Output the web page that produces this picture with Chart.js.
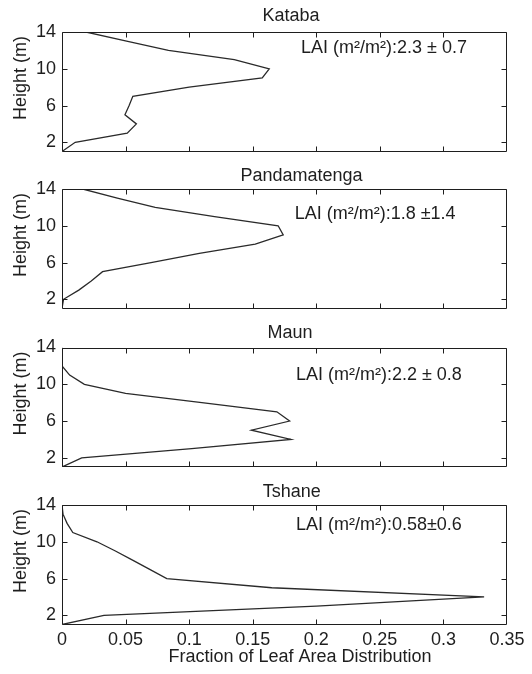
<!DOCTYPE html>
<html>
<head>
<meta charset="utf-8">
<script src="https://cdn.jsdelivr.net/npm/chart.js@4.4.1/dist/chart.umd.min.js"></script>
<style>
  html, body { margin: 0; padding: 0; background: #fff; }
  #wrap { position: relative; width: 532px; height: 674px; }
  #wrap canvas { position: absolute; left: 0; top: 0; }
</style>
</head>
<body>
<div id="wrap">
  <canvas id="panel0" width="532" height="674"></canvas>
  <canvas id="panel1" width="532" height="674"></canvas>
  <canvas id="panel2" width="532" height="674"></canvas>
  <canvas id="panel3" width="532" height="674"></canvas>
</div>
<script>
// heights (m) at which the leaf area fraction was sampled
const heights = [1, 2, 3, 4, 5, 6, 7, 8, 9, 10, 11, 12, 13, 14];

// fraction of leaf area per height, bottom to top
const kataba       = [0.000, 0.0104, 0.0513, 0.0585, 0.0495, 0.0528, 0.0557, 0.100, 0.1575, 0.163, 0.1355, 0.0837, 0.0508, 0.0189];
const pandamatenga = [0.000, 0.0012, 0.0132, 0.023, 0.0319, 0.070, 0.108, 0.152, 0.174, 0.170, 0.120, 0.0733, 0.0435, 0.0163];
const maun         = [0.000, 0.0155, 0.102, 0.180, 0.149, 0.179, 0.169, 0.110, 0.050, 0.0176, 0.006, 0.000, 0.000, 0.000];
const tshane       = [0.000, 0.033, 0.200, 0.332, 0.165, 0.0824, 0.069, 0.0555, 0.042, 0.0275, 0.0085, 0.004, 0.0008, 0.000];

const siteNames = ['Kataba', 'Pandamatenga', 'Maun', 'Tshane'];
const siteSeries = [kataba, pandamatenga, maun, tshane];
const laiText = ['LAI (m²/m²):2.3 ± 0.7', 'LAI (m²/m²):1.8 ±1.4', 'LAI (m²/m²):2.2 ± 0.8', 'LAI (m²/m²):0.58±0.6'];

const yTickValues = [2, 6, 10, 14];
const xMin = 0, xMax = 0.35, xStep = 0.05;
const yMin = 1, yMax = 14;

const yTitle = 'Height (m)';
const xTitle = 'Fraction of Leaf Area Distribution';

// layout of the four stacked panels (pixels)
const plotLeft = 62, plotRight = 507, plotHeight = 119.5;
const plotTops = [32, 189, 347.5, 505];
const titleX = [291, 301.5, 290, 291.7];
const titleBaseline = [21.4, 180.7, 338, 496.7];
// annotation anchor in data coordinates (left edge, cap middle)
const laiPos = [[0.188, 12.3], [0.183, 11.25], [0.184, 11.05], [0.184, 11.8]];

const FONT = '"Liberation Sans", Arial, Helvetica, sans-serif';
const INK = '#1e1e1e';

const panelDecor = {
  id: 'panelDecor',
  afterDatasetsDraw(chart, args, opts) {
    const { ctx, chartArea: a, scales: { x, y } } = chart;
    const L = Math.round(a.left) + 0.5, R = Math.round(a.right) - 0.5;
    const T = Math.round(a.top) + 0.5, B = Math.round(a.bottom) - 0.5;
    const tl = 5;
    ctx.save();
    ctx.strokeStyle = INK;
    ctx.lineWidth = 1;
    ctx.beginPath();
    ctx.rect(L, T, R - L, B - T);
    // inward ticks on all four sides
    x.ticks.forEach(t => {
      if (t.value <= xMin || t.value >= xMax - 1e-9) return;
      const px = Math.round(x.getPixelForValue(t.value)) + 0.5;
      ctx.moveTo(px, B); ctx.lineTo(px, B - tl);
      ctx.moveTo(px, T); ctx.lineTo(px, T + tl);
    });
    y.ticks.forEach(t => {
      const py = Math.round(y.getPixelForValue(t.value)) + 0.5;
      ctx.moveTo(L, py); ctx.lineTo(L + tl, py);
      ctx.moveTo(R, py); ctx.lineTo(R - tl, py);
    });
    ctx.stroke();

    ctx.fillStyle = INK;
    ctx.textBaseline = 'alphabetic';
    // panel title
    ctx.font = '18px ' + FONT;
    ctx.textAlign = 'center';
    ctx.fillText(opts.title, opts.titleX, opts.titleY);

    // LAI annotation
    ctx.textAlign = 'left';
    ctx.textBaseline = 'middle';
    ctx.fillText(opts.lai, x.getPixelForValue(opts.laiPos[0]), y.getPixelForValue(opts.laiPos[1]));

    // y axis title
    ctx.textBaseline = 'alphabetic';
    ctx.textAlign = 'center';
    ctx.save();
    ctx.translate(26, a.top + 46);
    ctx.rotate(-Math.PI / 2);
    ctx.fillText(yTitle, 0, 0);
    ctx.restore();

    if (opts.showXTitle) {
      ctx.fillText(xTitle, 300, 661.5);
    }
    ctx.restore();
  }
};

function makePanel(i) {
  const last = i === siteNames.length - 1;
  const points = heights.map((h, k) => ({ x: siteSeries[i][k], y: h }));
  const top = plotTops[i];
  const below = 674 - (top + plotHeight);

  return new Chart(document.getElementById('panel' + i), {
    type: 'line',
    data: {
      datasets: [{
        data: points,
        borderColor: '#2a2a2a',
        borderWidth: 1.3,
        pointRadius: 0,
        tension: 0,
        fill: false
      }]
    },
    options: {
      responsive: false,
      animation: false,
      events: [],
      layout: { padding: { left: 0, right: 532 - plotRight, top: top, bottom: 0 } },
      plugins: {
        legend: { display: false },
        tooltip: { enabled: false },
        panelDecor: {
          title: siteNames[i],
          titleX: titleX[i],
          titleY: titleBaseline[i],
          lai: laiText[i],
          laiPos: laiPos[i],
          showXTitle: last
        }
      },
      scales: {
        x: {
          type: 'linear',
          min: xMin,
          max: xMax,
          grid: { display: false, drawTicks: false },
          border: { display: false },
          ticks: {
            display: last,
            stepSize: xStep,
            padding: 5,
            color: INK,
            font: { size: 18, family: FONT },
            autoSkip: false,
            maxRotation: 0,
            callback: v => String(Number(v.toFixed(2)))
          },
          afterFit: s => { s.height = below; }
        },
        y: {
          type: 'linear',
          min: yMin,
          max: yMax,
          grid: { display: false, drawTicks: false },
          border: { display: false },
          afterBuildTicks: s => { s.ticks = yTickValues.map(v => ({ value: v })); },
          ticks: {
            padding: 6,
            color: INK,
            font: { size: 18, family: FONT },
            autoSkip: false
          },
          afterFit: s => { s.width = plotLeft; }
        }
      }
    },
    plugins: [panelDecor]
  });
}

siteNames.forEach((name, i) => makePanel(i));
</script>
</body>
</html>
